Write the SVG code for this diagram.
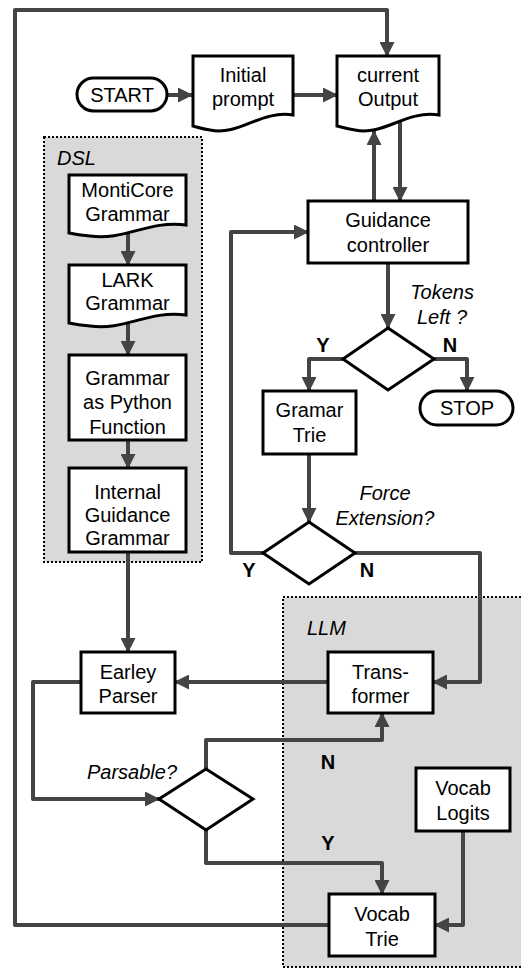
<svg xmlns="http://www.w3.org/2000/svg" width="521" height="968" viewBox="0 0 521 968">
<style>
.n{fill:#fff;stroke:#000;stroke-width:3}
.c{fill:none;stroke:#444;stroke-width:4;stroke-linejoin:round}
.box{fill:#d9d9d9;stroke:#000;stroke-width:2;stroke-dasharray:2,2}
text{font-family:"Liberation Sans",Arial,sans-serif;font-size:20px;fill:#000;text-anchor:middle}
.i{font-style:italic}
.b{font-weight:bold}
</style>
<defs>
<marker id="a" markerUnits="userSpaceOnUse" markerWidth="15" markerHeight="15" refX="14" refY="7.5" orient="auto">
<path d="M0,0 L15,7.5 L0,15 z" fill="#444"/>
</marker>
</defs>
<rect width="521" height="968" fill="#fff"/>
<g id="containers">
<rect class="box" x="44" y="137" width="158" height="425"/>
<text class="i" x="57" y="165" style="text-anchor:start">DSL</text>
<rect class="box" x="283" y="597" width="250" height="370"/>
<text class="i" x="307" y="635" style="text-anchor:start">LLM</text>
</g>
<g id="connectors">
<path class="c" d="M167,95 H192" marker-end="url(#a)"/>
<path class="c" d="M293,95 H337" marker-end="url(#a)"/>
<path class="c" d="M329,925 H15 V10 H387 V56" marker-end="url(#a)"/>
<path class="c" d="M374,201 V131" marker-end="url(#a)"/>
<path class="c" d="M400,120 V201" marker-end="url(#a)"/>
<path class="c" d="M388,263 V328" marker-end="url(#a)"/>
<path class="c" d="M343,359 H309 V391" marker-end="url(#a)"/>
<path class="c" d="M434,359 H467 V391" marker-end="url(#a)"/>
<path class="c" d="M309,454 V522" marker-end="url(#a)"/>
<path class="c" d="M263,553 H231 V232 H308" marker-end="url(#a)"/>
<path class="c" d="M355,553 H480 V682 H433" marker-end="url(#a)"/>
<path class="c" d="M328,682 H175" marker-end="url(#a)"/>
<path class="c" d="M128,552 V652" marker-end="url(#a)"/>
<path class="c" d="M81,682 H33 V799 H159" marker-end="url(#a)"/>
<path class="c" d="M206,769 V740 H382 V713" marker-end="url(#a)"/>
<path class="c" d="M206,830 V863 H382 V894" marker-end="url(#a)"/>
<path class="c" d="M463,831 V925 H435" marker-end="url(#a)"/>
<path class="c" d="M128,228 V265" marker-end="url(#a)"/>
<path class="c" d="M128,318 V355" marker-end="url(#a)"/>
<path class="c" d="M128,440 V468" marker-end="url(#a)"/>
</g>
<g id="start">
<rect class="n" x="77" y="78" width="90" height="33" rx="16.5"/>
<text x="122" y="102">START</text>
</g>
<g id="initial-prompt">
<path class="n" d="M193,56 H293 V115 C260,110 240,136 210,130 C202,129 197,127 193,126 Z"/>
<text x="243" y="82">Initial</text>
<text x="243" y="106">prompt</text>
</g>
<g id="current-output">
<path class="n" d="M337,56 H439 V115 C405,110 385,136 355,130 C347,129 341,127 337,126 Z"/>
<text x="388" y="82">current</text>
<text x="388" y="106">Output</text>
</g>
<g id="monticore">
<path class="n" d="M69,175 H186 V225 C148,220 125,241 90,236 C80,235 74,234 69,233 Z"/>
<text x="127.5" y="197">MontiCore</text>
<text x="127.5" y="221">Grammar</text>
</g>
<g id="lark">
<path class="n" d="M69,265 H186 V315 C148,310 125,331 90,326 C80,325 74,324 69,323 Z"/>
<text x="127.5" y="287">LARK</text>
<text x="127.5" y="310">Grammar</text>
</g>
<g id="grammar-python">
<rect class="n" x="69" y="355" width="117" height="85"/>
<text x="127.5" y="385">Grammar</text>
<text x="127.5" y="409">as Python</text>
<text x="127.5" y="434">Function</text>
</g>
<g id="internal-grammar">
<rect class="n" x="69" y="468" width="117" height="84"/>
<text x="127.5" y="499">Internal</text>
<text x="127.5" y="522">Guidance</text>
<text x="127.5" y="545">Grammar</text>
</g>
<g id="guidance-controller">
<rect class="n" x="308" y="201" width="160" height="62"/>
<text x="388" y="227">Guidance</text>
<text x="388" y="252">controller</text>
</g>
<g id="tokens-left">
<polygon class="n" points="388,328 434,359 388,390 343,359"/>
<text class="i" x="442" y="299">Tokens</text>
<text class="i" x="442" y="324">Left ?</text>
<text class="b" x="323" y="352">Y</text>
<text class="b" x="450" y="352">N</text>
</g>
<g id="gramar-trie">
<rect class="n" x="263" y="391" width="93" height="63"/>
<text x="309.5" y="417">Gramar</text>
<text x="309.5" y="442">Trie</text>
</g>
<g id="stop">
<rect class="n" x="420" y="391" width="93" height="34" rx="17"/>
<text x="467" y="415">STOP</text>
</g>
<g id="force-extension">
<polygon class="n" points="309,522 355,553 309,584 263,553"/>
<text class="i" x="385" y="500">Force</text>
<text class="i" x="385" y="525">Extension?</text>
<text class="b" x="249" y="577">Y</text>
<text class="b" x="367" y="577">N</text>
</g>
<g id="transformer">
<rect class="n" x="328" y="652" width="105" height="61"/>
<text x="380.5" y="679">Trans-</text>
<text x="380.5" y="703">former</text>
</g>
<g id="earley-parser">
<rect class="n" x="81" y="652" width="94" height="61"/>
<text x="128" y="679">Earley</text>
<text x="128" y="703">Parser</text>
</g>
<g id="parsable">
<polygon class="n" points="206,769 253,799 206,830 159,799"/>
<text class="i" x="132" y="779">Parsable?</text>
<text class="b" x="328" y="769">N</text>
<text class="b" x="328" y="850">Y</text>
</g>
<g id="vocab-logits">
<rect class="n" x="416" y="768" width="94" height="63"/>
<text x="463" y="795">Vocab</text>
<text x="463" y="820">Logits</text>
</g>
<g id="vocab-trie">
<rect class="n" x="329" y="894" width="106" height="62"/>
<text x="382" y="921">Vocab</text>
<text x="382" y="946">Trie</text>
</g>
</svg>
